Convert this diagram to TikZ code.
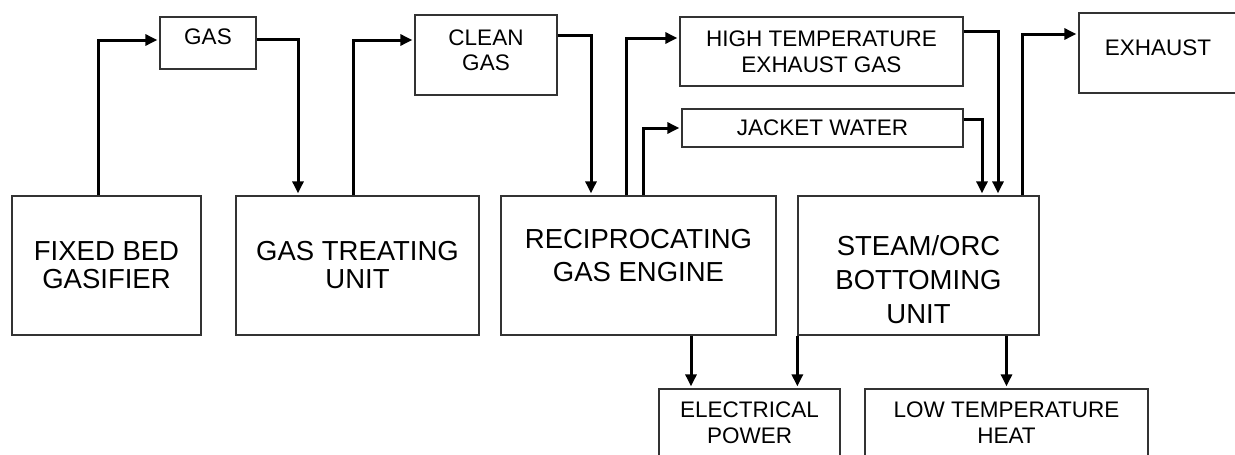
\documentclass[tikz,border=0pt]{standalone}
\usepackage{fontspec}
\setmainfont{Liberation Sans}
\usetikzlibrary{arrows.meta}
\tikzset{
	block/.style = {
		draw=black!80, 
		fill=white, 
		rectangle, 
		line width=1.3pt, 
		align=center, 
		inner sep=0pt, 
		font=\fontsize{27.5}{28}\selectfont
	},
	tag/.style = {
		block, 
		font=\fontsize{22.5}{25.7}\selectfont
	},
	signal/.style = {
		-{Triangle[length=12pt,width=11pt]}, 
		line width=3pt, 
		shorten >=2pt
	}
}
\begin{document}
\begin{tikzpicture}[x=1pt, y=-1pt]
		\useasboundingbox (0,0) rectangle (1235,455);
		
		% --- Bloques principales ---
		\node [block, minimum width=189pt, minimum height=139pt] (gasifier) at (106.5,265.5) {FIXED BED\\GASIFIER};
		\node [block, minimum width=243pt, minimum height=139pt] (treating) at (357.5,265.5) {GAS TREATING\\UNIT};
		\node [block, minimum width=275pt, minimum height=139pt, font=\fontsize{27.5}{32.5}\selectfont] (engine) at (638.5,265.5) {RECIPROCATING\\GAS ENGINE\rule[-20pt]{0pt}{20pt}};
		\node [block, minimum width=241pt, minimum height=139pt, font=\fontsize{27.5}{34}\selectfont] (steam) at (918.5,265.5) {\rule{0pt}{49pt}STEAM/ORC\\BOTTOMING\\UNIT};
		
		% --- Corrientes (cajas pequeñas) ---
		\node [tag, minimum width=96pt, minimum height=52pt] (gas) at (208,43) {GAS\rule[-12pt]{0pt}{12pt}};
		\node [tag, minimum width=142pt, minimum height=80pt] (clean) at (486,55) {CLEAN\\GAS\rule[-10pt]{0pt}{10pt}};
		\node [tag, minimum width=283pt, minimum height=69pt] (hteg) at (821.5,51.5) {HIGH TEMPERATURE\\EXHAUST GAS};
		\node [tag, minimum width=281pt, minimum height=38pt] (jacket) at (822.5,128) {JACKET WATER};
		\node [tag, minimum width=158pt, minimum height=80pt] (exhaust) at (1158,53) {EXHAUST\rule[-11pt]{0pt}{11pt}};
		
		% --- Productos (abajo) ---
		\node [tag, minimum width=181pt, minimum height=67pt] (power) at (749.5,422.5) {ELECTRICAL\\POWER};
		\node [tag, minimum width=283pt, minimum height=67pt] (lowheat) at (1006.5,422.5) {LOW TEMPERATURE\\HEAT};
		
		% --- CONEXIONES ---
		% Gasificador -> gas -> tratamiento
		\draw [signal] ([xshift=-8.5pt]gasifier.north) |- ([yshift=3pt]gas.west);
		\draw [signal] ([yshift=4pt]gas.east) -| ([xshift=-59.5pt]treating.north);
		
		% Tratamiento -> gas limpio -> motor
		\draw [signal] ([xshift=-4.5pt]treating.north) |- ([yshift=15pt]clean.west);
		\draw [signal] ([yshift=20pt]clean.east) -| ([xshift=-47.5pt]engine.north);
		
		% Motor -> calor residual
		\draw [signal] ([xshift=-12.5pt]engine.north) |- ([yshift=13.5pt]hteg.west);
		\draw [signal] ([xshift=4.5pt]engine.north) |- (jacket.west);
		
		% Calor residual -> ciclo de cola
		\draw [signal] ([yshift=20.5pt]hteg.east) -| ([xshift=79.5pt]steam.north);
		\draw [signal] ([yshift=9pt]jacket.east) -| ([xshift=63.5pt]steam.north);
		\draw [signal] ([xshift=103.5pt]steam.north) |- ([yshift=19pt]exhaust.west);
		
		% Salidas hacia abajo
		\draw [signal] ([xshift=52.5pt]engine.south) -- ([xshift=52.5pt]engine.south |- power.north);
		\draw [signal] (steam.south west) -- (steam.south west |- power.north);
		\draw [signal] (steam.south -| lowheat.north) -- (lowheat.north);
		
	\end{tikzpicture}
\end{document}
